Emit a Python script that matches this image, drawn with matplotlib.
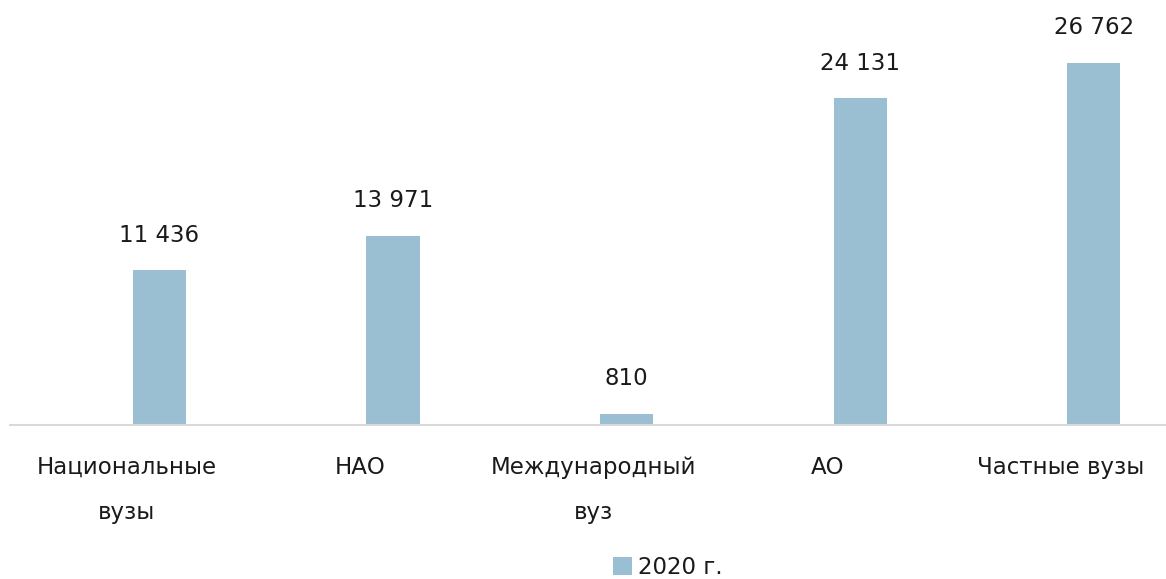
import matplotlib.pyplot as plt
import matplotlib.transforms as mtransforms

categories = ['Национальные\nвузы', 'НАО', 'Международный\nвуз', 'АО', 'Частные вузы']
values = [11436, 13971, 810, 24131, 26762]
series_name = '2020 г.'

bar_color = '#9BBFD2'
text_color = '#1a1a1a'

plt.rcParams['font.family'] = ['DejaVu Sans']

fig = plt.figure(figsize=(11.66, 5.79), dpi=100)
ax = fig.add_axes([10 / 1166, 154 / 579, 1156 / 1166, 425 / 579])

x = list(range(len(categories)))
bars = ax.bar(x, values, width=0.227, color=bar_color, label=series_name, zorder=2)

labels = [f'{v:,}'.replace(',', ' ') for v in values]
ax.bar_label(bars, labels=labels, padding=17, fontsize=16.5, color=text_color)

ax.set_xlim(-0.64, 4.31)
ax.set_ylim(0, 31410)

ax.set_xticks(x)
ax.set_xticklabels(categories, fontsize=16.5, color=text_color, linespacing=2.25, va='top')
ax.tick_params(axis='x', length=0, pad=22)
ax.set_yticks([])

# category labels sit a bit left of the bars in the original
shift = mtransforms.ScaledTranslation(-33 / 100, 0, fig.dpi_scale_trans)
for lbl in ax.get_xticklabels():
    lbl.set_transform(lbl.get_transform() + shift)

for side in ['top', 'right', 'left']:
    ax.spines[side].set_visible(False)
ax.spines['bottom'].set_color('#D9D9D9')
ax.spines['bottom'].set_linewidth(1.5)

fig.legend(loc='center', bbox_to_anchor=(0.573, 0.02), frameon=False,
           fontsize=16.5, handlelength=0.8, handleheight=0.8, handletextpad=0.3,
           labelcolor=text_color)

fig.savefig('out.png', dpi=100)
